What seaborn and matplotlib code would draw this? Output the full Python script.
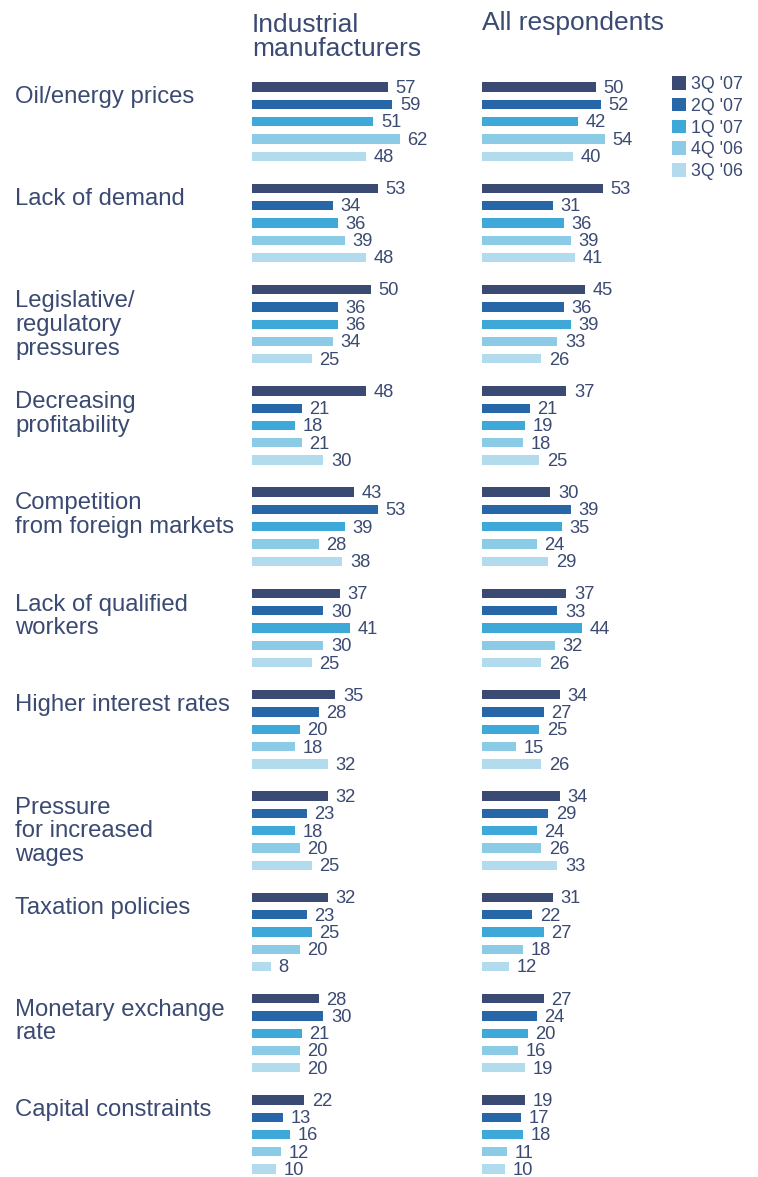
import numpy as np
import pandas as pd
import matplotlib
matplotlib.use("Agg")
import matplotlib.pyplot as plt
from matplotlib.patches import Patch
import seaborn as sns

# ---- data -------------------------------------------------------------
categories = [
    "Oil/energy prices",
    "Lack of demand",
    "Legislative/\nregulatory\npressures",
    "Decreasing\nprofitability",
    "Competition\nfrom foreign markets",
    "Lack of qualified\nworkers",
    "Higher interest rates",
    "Pressure\nfor increased\nwages",
    "Taxation policies",
    "Monetary exchange\nrate",
    "Capital constraints",
]
quarters = ["3Q '07", "2Q '07", "1Q '07", "4Q '06", "3Q '06"]

industrial = [
    [57, 59, 51, 62, 48],
    [53, 34, 36, 39, 48],
    [50, 36, 36, 34, 25],
    [48, 21, 18, 21, 30],
    [43, 53, 39, 28, 38],
    [37, 30, 41, 30, 25],
    [35, 28, 20, 18, 32],
    [32, 23, 18, 20, 25],
    [32, 23, 25, 20, 8],
    [28, 30, 21, 20, 20],
    [22, 13, 16, 12, 10],
]
all_respondents = [
    [50, 52, 42, 54, 40],
    [53, 31, 36, 39, 41],
    [45, 36, 39, 33, 26],
    [37, 21, 19, 18, 25],
    [30, 39, 35, 24, 29],
    [37, 33, 44, 32, 26],
    [34, 27, 25, 15, 26],
    [34, 29, 24, 26, 33],
    [31, 22, 27, 18, 12],
    [27, 24, 20, 16, 19],
    [19, 17, 18, 11, 10],
]
panel_titles = ["Industrial\nmanufacturers", "All respondents"]

colors = ["#3a4a72", "#2767a8", "#3ea8d8", "#8bcbe6", "#b2dcee"]
text_color = "#3b4a72"

# ---- layout (pixels) --------------------------------------------------
W, H = 758, 1177
slot = 17.3          # vertical distance between bars of one group
group_step = 5.855   # distance between groups, in bar slots
first_bar = 87       # pixel centre of the very first bar

def long_frame(values):
    rows = []
    for g, cat in enumerate(categories):
        for q, quarter in enumerate(quarters):
            rows.append({"pos": g * group_step + q, "value": values[g][q],
                         "quarter": quarter, "category": cat})
    return pd.DataFrame(rows)

sns.set_theme(style="white")
plt.rcParams["font.family"] = ["Liberation Sans", "DejaVu Sans"]

fig = plt.figure(figsize=(W / 100, H / 100), dpi=100)

ylim = ((H - first_bar) / slot, -first_bar / slot)
panels = [
    (industrial, 252, 210, 2.38),
    (all_respondents, 482, 185, 2.28),
]
axes = []
for values, left, width, px_per_unit in panels:
    ax = fig.add_axes([left / W, 0, width / W, 1])
    df = long_frame(values)
    sns.barplot(data=df, x="value", y="pos", hue="quarter", hue_order=quarters,
                palette=colors, orient="y", native_scale=True, dodge=False,
                width=0.54, saturation=1, errorbar=None, legend=False,
                linewidth=0, ax=ax)
    ax.set_xlim(0, width / px_per_unit)
    ax.set_ylim(*ylim)
    ax.set_axis_off()
    for _, r in df.iterrows():
        ax.annotate(f"{r['value']:d}", (r["value"], r["pos"]),
                    xytext=(5.5, -1.0), textcoords="offset points",
                    ha="left", va="center", fontsize=13.2, color=text_color)
    axes.append(ax)

# panel titles (baseline given for the last line)
for title, left in zip(panel_titles, [252, 482]):
    n_lines = title.count("\n") + 1
    y_px = 30 + (n_lines - 1) * 25.5
    fig.text(left / W, 1 - y_px / H, title, ha="left", va="baseline",
             fontsize=19, color=text_color, linespacing=1.0)

# category labels (baseline given for the last line)
line_step = 24.3
for g, cat in enumerate(categories):
    n_lines = cat.count("\n") + 1
    y_px = first_bar + g * group_step * slot + 16.5 + (n_lines - 1) * line_step
    fig.text(15 / W, 1 - y_px / H, cat, ha="left", va="baseline",
             fontsize=17.2, color=text_color, linespacing=1.1)

# legend
handles = [Patch(facecolor=c, edgecolor="none") for c in colors]
axes[1].legend(handles, quarters, loc="upper left",
               bbox_to_anchor=(672 / W, 1 - 76 / H),
               bbox_transform=fig.transFigure, frameon=False,
               fontsize=12.8, labelcolor=text_color, borderpad=0,
               borderaxespad=0, handlelength=0.8, handleheight=0.8,
               handletextpad=0.25, labelspacing=0.27)

fig.savefig("out.png", dpi=100)
